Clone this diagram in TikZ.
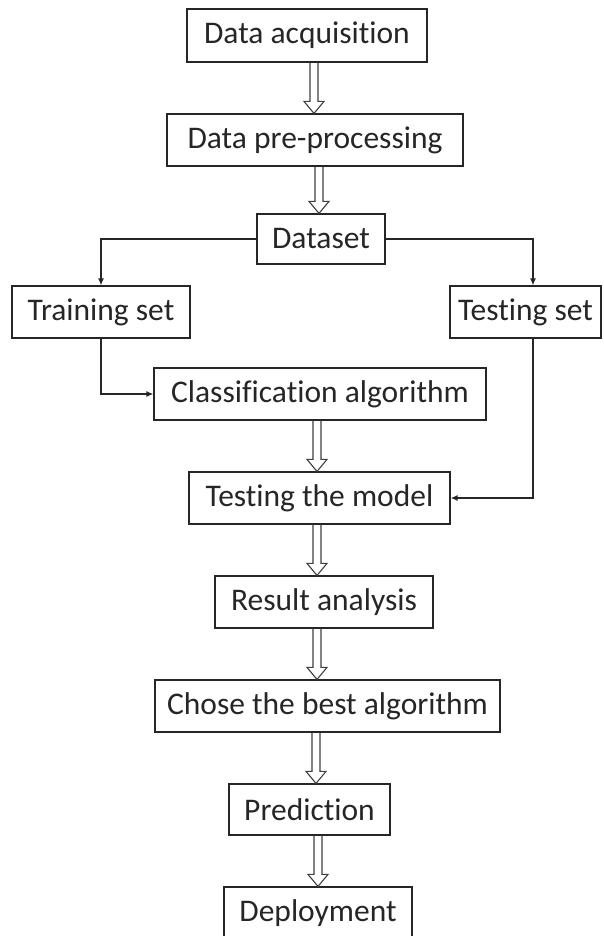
\documentclass[tikz,border=0pt]{standalone}
\usepackage{fontspec}
\setmainfont{Carlito}[Ligatures=NoCommon]
\usetikzlibrary{arrows.meta,calc}
\begin{document}
\begin{tikzpicture}[x=1pt,y=-1pt,
  box/.style={draw=black!85,line width=1.2pt,inner sep=0pt,
    font=\fontsize{31.5}{36}\selectfont,text=black!85},
  dbl/.style={draw=black!75,line width=1.1pt,
    to path={let \p1=(\tikztostart),\p2=(\tikztotarget) in
      (\x1-4pt,\y1) -- (\x1-4pt,\y2+12pt) -- (\x1-10pt,\y2+12pt) -- (\x1,\y2)
      -- (\x1+10pt,\y2+12pt) -- (\x1+4pt,\y2+12pt) -- (\x1+4pt,\y1)}},
  thin/.style={draw=black!85,line width=1.3pt,-{Latex[length=7pt,width=6pt]}}]
\useasboundingbox (0,0) rectangle (603,936);
\fill[white] (0,0) rectangle (603,936);
\node[box,minimum width=240pt,minimum height=53pt] (acq) at (307,35.5) {Data acquisition};
\node[box,minimum width=296pt,minimum height=52pt] (pre) at (315,140) {Data pre-processing};
\node[box,minimum width=128pt,minimum height=50pt] (ds) at (321,239) {Dataset};
\node[box,minimum width=178pt,minimum height=52pt] (train) at (101,312) {Training set};
\node[box,minimum width=151pt,minimum height=52pt] (test) at (525.5,312) {Testing set};
\node[box,minimum width=332pt,minimum height=52pt] (cls) at (320,394) {Classification algorithm};
\node[box,minimum width=261pt,minimum height=52pt] (tm) at (319.5,498) {Testing the model};
\node[box,minimum width=218pt,minimum height=52pt] (ra) at (324,602) {Result analysis};
\node[box,minimum width=345pt,minimum height=52pt] (cb) at (327.5,706) {Chose the best algorithm};
\node[box,minimum width=161pt,minimum height=51pt] (pr) at (309.5,809.5) {Prediction};
\node[box,minimum width=188pt,minimum height=52pt] (dep) at (318,913) {Deployment};

\draw[dbl] (acq.south -| 314,0) to (pre.north -| 314,0);
\draw[dbl] (pre.south -| 319,0) to (ds.north -| 319,0);
\draw[dbl] (cls.south -| 317,0) to (tm.north -| 317,0);
\draw[dbl] (tm.south -| 317,0) to (ra.north -| 317,0);
\draw[dbl] (ra.south -| 317,0) to (cb.north -| 317,0);
\draw[dbl] (cb.south -| 316,0) to (pr.north -| 316,0);
\draw[dbl] (pr.south -| 318,0) to (dep.north -| 318,0);

\draw[thin] (ds.west) -| (train.north);
\draw[thin] (ds.east) -| (test.north -| 533,0);
\draw[thin] (train.south) |- (cls.west);
\draw[thin] (test.south -| 533,0) |- (tm.east);
\end{tikzpicture}
\end{document}
